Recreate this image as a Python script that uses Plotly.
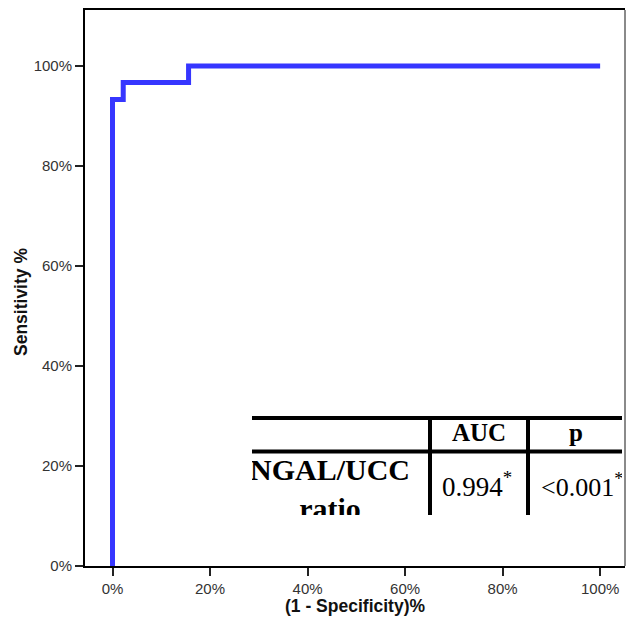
import plotly.graph_objects as go

# ROC curve data (percent)
fpr = [0, 0, 2.2, 15.6, 100]
tpr = [0, 93.3, 96.7, 100, 100]

x_ticks = [0, 20, 40, 60, 80, 100]
y_ticks = [0, 20, 40, 60, 80, 100]

# table content
tbl_header = ["AUC", "p"]
tbl_row_label = ["NGAL/UCC", "ratio"]
tbl_auc = "0.994"
tbl_p = "<0.001"

W, H = 627, 621
L, R, T, B = 85, 2, 10, 55

def px_x(p):
    return (p - L) / (W - L - R)

def px_y(p):
    return (H - B - p) / (H - T - B)

fig = go.Figure()
fig.add_trace(go.Scatter(
    x=fpr, y=tpr, mode="lines", line=dict(color="#3636FF", width=5, shape="hv"),
    showlegend=False, hoverinfo="skip", xaxis="x", yaxis="y"))

# Table subplot (pixel coordinates)
tx0, tx1, ty0, ty1 = 252, 622, 416, 515
serif = "Liberation Serif, Times New Roman, serif"
fig.add_trace(go.Scatter(
    x=[479, 576], y=[435, 435], mode="text", text=[f"<b>{t}</b>" for t in tbl_header],
    textposition="middle center", textfont=dict(family=serif, size=25, color="black"),
    cliponaxis=True, showlegend=False, hoverinfo="skip", xaxis="x2", yaxis="y2"))
fig.add_trace(go.Scatter(
    x=[330, 330], y=[472, 511], mode="text", text=[f"<b>{t}</b>" for t in tbl_row_label],
    textposition="middle center", textfont=dict(family=serif, size=30, color="black"),
    cliponaxis=True, showlegend=False, hoverinfo="skip", xaxis="x2", yaxis="y2"))
fig.add_trace(go.Scatter(
    x=[477], y=[489], mode="text", text=[tbl_auc + "<sup>*</sup>"],
    textposition="middle center", textfont=dict(family=serif, size=27, color="black"),
    cliponaxis=True, showlegend=False, hoverinfo="skip", xaxis="x2", yaxis="y2"))
fig.add_trace(go.Scatter(
    x=[541], y=[489], mode="text", text=[tbl_p.replace("<", "&lt;") + "<sup>*</sup>"],
    textposition="middle right", textfont=dict(family=serif, size=26, color="black"),
    cliponaxis=True, showlegend=False, hoverinfo="skip", xaxis="x2", yaxis="y2"))

shapes = []
# horizontal table lines
for yy, w in [(418, 4), (451.5, 4)]:
    shapes.append(dict(type="line", xref="x2", yref="y2", x0=tx0, x1=tx1, y0=yy, y1=yy,
                       line=dict(color="black", width=w), layer="above"))
for xx in [430, 528]:
    shapes.append(dict(type="line", xref="x2", yref="y2", x0=xx, x1=xx, y0=416, y1=515,
                       line=dict(color="black", width=4), layer="above"))
# right border (gray)
shapes.append(dict(type="line", xref="paper", yref="paper", x0=1, x1=1, y0=0, y1=1,
                   line=dict(color="#8a8a8a", width=2), layer="above"))

sans = "Arial, Liberation Sans, sans-serif"
fig.update_layout(
    width=W, height=H, margin=dict(l=L, r=R, t=T, b=B),
    paper_bgcolor="white", plot_bgcolor="white",
    font=dict(family=sans, color="#333333", size=15),
    xaxis=dict(range=[-5.64, 105.1], tickvals=x_ticks, ticktext=[f"{v}%" for v in x_ticks],
               showgrid=False, zeroline=False, showline=True, linecolor="black", linewidth=2,
               mirror=True, ticks="outside", ticklen=8, tickwidth=1.5, tickcolor="#222",
               tickfont=dict(size=15, color="#333"), fixedrange=True),
    yaxis=dict(range=[0, 111.2], tickvals=y_ticks, ticktext=[f"{v}%" for v in y_ticks],
               showgrid=False, zeroline=False, showline=True, linecolor="black", linewidth=2,
               ticks="outside", ticklen=8, tickwidth=1.5, tickcolor="#222",
               tickfont=dict(size=15, color="#333"), fixedrange=True),
    xaxis2=dict(domain=[px_x(tx0), px_x(tx1)], range=[tx0, tx1], anchor="y2", visible=False,
                fixedrange=True),
    yaxis2=dict(domain=[px_y(ty1), px_y(ty0)], range=[ty1, ty0], anchor="x2", visible=False,
                fixedrange=True),
    shapes=shapes,
    annotations=[
        dict(text="<b>(1 - Specificity)%</b>", xref="paper", yref="paper",
             x=0.5, y=px_y(606), showarrow=False, font=dict(size=17.5, color="#111"),
             xanchor="center", yanchor="middle"),
        dict(text="<b>Sensitivity %</b>", xref="paper", yref="paper",
             x=px_x(21), y=px_y(302), showarrow=False, textangle=-90,
             font=dict(size=17.5, color="#111"), xanchor="center", yanchor="middle"),
    ],
)
fig.write_html("out.html", config={"displayModeBar": False},
               post_script="document.body.style.margin='0';")
